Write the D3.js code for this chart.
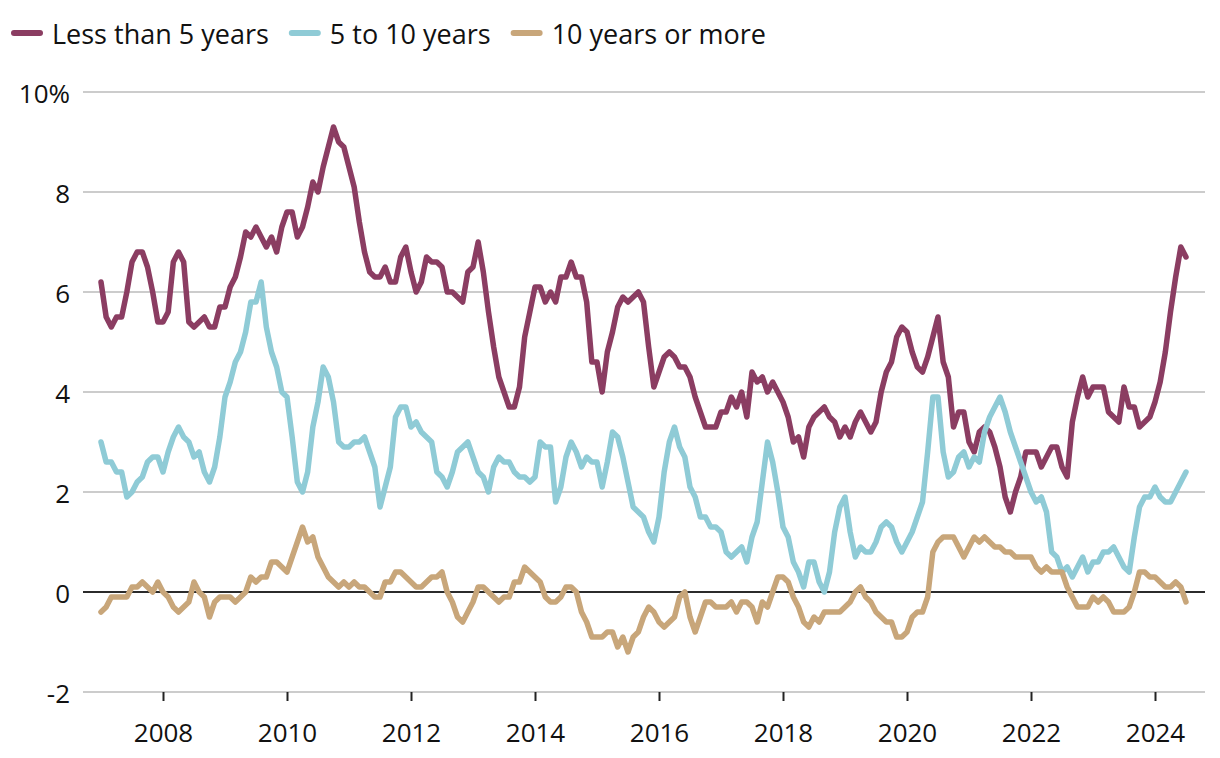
<!DOCTYPE html>
<html>
<head>
<meta charset="utf-8">
<script src="https://cdn.jsdelivr.net/npm/d3@7"></script>
<style>
  body { margin: 0; background: #fff; }
  text { font-family: "Open Sans", Lato, sans-serif; fill: #111; }
</style>
</head>
<body>
<div id="chartArea"></div>
<script>
// monthly values, Jan 2007 .. Jul 2024
var lessThan5 = [
  6.2, 5.5, 5.3, 5.5, 5.5, 6.0, 6.6, 6.8, 6.8, 6.5, 6.0, 5.4,
  5.4, 5.6, 6.6, 6.8, 6.6, 5.4, 5.3, 5.4, 5.5, 5.3, 5.3, 5.7,
  5.7, 6.1, 6.3, 6.7, 7.2, 7.1, 7.3, 7.1, 6.9, 7.1, 6.8, 7.3,
  7.6, 7.6, 7.1, 7.3, 7.7, 8.2, 8.0, 8.5, 8.9, 9.3, 9.0, 8.9,
  8.5, 8.1, 7.4, 6.8, 6.4, 6.3, 6.3, 6.5, 6.2, 6.2, 6.7, 6.9,
  6.4, 6.0, 6.2, 6.7, 6.6, 6.6, 6.5, 6.0, 6.0, 5.9, 5.8, 6.4,
  6.5, 7.0, 6.4, 5.6, 4.9, 4.3, 4.0, 3.7, 3.7, 4.1, 5.1, 5.6,
  6.1, 6.1, 5.8, 6.0, 5.8, 6.3, 6.3, 6.6, 6.3, 6.3, 5.8, 4.6,
  4.6, 4.0, 4.8, 5.2, 5.7, 5.9, 5.8, 5.9, 6.0, 5.8, 4.9, 4.1,
  4.4, 4.7, 4.8, 4.7, 4.5, 4.5, 4.3, 3.9, 3.6, 3.3, 3.3, 3.3,
  3.6, 3.6, 3.9, 3.7, 4.0, 3.5, 4.4, 4.2, 4.3, 4.0, 4.2, 4.0,
  3.8, 3.5, 3.0, 3.1, 2.7, 3.3, 3.5, 3.6, 3.7, 3.5, 3.4, 3.1,
  3.3, 3.1, 3.4, 3.6, 3.4, 3.2, 3.4, 4.0, 4.4, 4.6, 5.1, 5.3,
  5.2, 4.8, 4.5, 4.4, 4.7, 5.1, 5.5, 4.6, 4.3, 3.3, 3.6, 3.6,
  3.0, 2.8, 3.2, 3.3, 3.2, 2.9, 2.5, 1.9, 1.6, 2.0, 2.3, 2.8,
  2.8, 2.8, 2.5, 2.7, 2.9, 2.9, 2.5, 2.3, 3.4, 3.9, 4.3, 3.9,
  4.1, 4.1, 4.1, 3.6, 3.5, 3.4, 4.1, 3.7, 3.7, 3.3, 3.4, 3.5,
  3.8, 4.2, 4.8, 5.6, 6.3, 6.9, 6.7
];
var fiveToTen = [
  3.0, 2.6, 2.6, 2.4, 2.4, 1.9, 2.0, 2.2, 2.3, 2.6, 2.7, 2.7,
  2.4, 2.8, 3.1, 3.3, 3.1, 3.0, 2.7, 2.8, 2.4, 2.2, 2.5, 3.1,
  3.9, 4.2, 4.6, 4.8, 5.2, 5.8, 5.8, 6.2, 5.3, 4.8, 4.5, 4.0,
  3.9, 3.1, 2.2, 2.0, 2.4, 3.3, 3.8, 4.5, 4.3, 3.8, 3.0, 2.9,
  2.9, 3.0, 3.0, 3.1, 2.8, 2.5, 1.7, 2.1, 2.5, 3.5, 3.7, 3.7,
  3.3, 3.4, 3.2, 3.1, 3.0, 2.4, 2.3, 2.1, 2.4, 2.8, 2.9, 3.0,
  2.7, 2.4, 2.3, 2.0, 2.5, 2.7, 2.6, 2.6, 2.4, 2.3, 2.3, 2.2,
  2.3, 3.0, 2.9, 2.9, 1.8, 2.1, 2.7, 3.0, 2.8, 2.5, 2.7, 2.6,
  2.6, 2.1, 2.6, 3.2, 3.1, 2.7, 2.2, 1.7, 1.6, 1.5, 1.2, 1.0,
  1.5, 2.4, 3.0, 3.3, 2.9, 2.7, 2.1, 1.9, 1.5, 1.5, 1.3, 1.3,
  1.2, 0.8, 0.7, 0.8, 0.9, 0.6, 1.1, 1.4, 2.2, 3.0, 2.6, 2.0,
  1.3, 1.1, 0.6, 0.4, 0.1, 0.6, 0.6, 0.2, 0.0, 0.4, 1.2, 1.7,
  1.9, 1.2, 0.7, 0.9, 0.8, 0.8, 1.0, 1.3, 1.4, 1.3, 1.0, 0.8,
  1.0, 1.2, 1.5, 1.8, 2.8, 3.9, 3.9, 2.8, 2.3, 2.4, 2.7, 2.8,
  2.5, 2.7, 2.6, 3.2, 3.5, 3.7, 3.9, 3.6, 3.2, 2.9, 2.6, 2.3,
  2.0, 1.8, 1.9, 1.6, 0.8, 0.7, 0.4, 0.5, 0.3, 0.5, 0.7, 0.4,
  0.6, 0.6, 0.8, 0.8, 0.9, 0.7, 0.5, 0.4, 1.1, 1.7, 1.9, 1.9,
  2.1, 1.9, 1.8, 1.8, 2.0, 2.2, 2.4
];
var tenPlus = [
  -0.4, -0.3, -0.1, -0.1, -0.1, -0.1, 0.1, 0.1, 0.2, 0.1, 0.0, 0.2,
  0.0, -0.1, -0.3, -0.4, -0.3, -0.2, 0.2, 0.0, -0.1, -0.5, -0.2, -0.1,
  -0.1, -0.1, -0.2, -0.1, 0.0, 0.3, 0.2, 0.3, 0.3, 0.6, 0.6, 0.5,
  0.4, 0.7, 1.0, 1.3, 1.0, 1.1, 0.7, 0.5, 0.3, 0.2, 0.1, 0.2,
  0.1, 0.2, 0.1, 0.1, 0.0, -0.1, -0.1, 0.2, 0.2, 0.4, 0.4, 0.3,
  0.2, 0.1, 0.1, 0.2, 0.3, 0.3, 0.4, 0.0, -0.2, -0.5, -0.6, -0.4,
  -0.2, 0.1, 0.1, 0.0, -0.1, -0.2, -0.1, -0.1, 0.2, 0.2, 0.5, 0.4,
  0.3, 0.2, -0.1, -0.2, -0.2, -0.1, 0.1, 0.1, 0.0, -0.4, -0.6, -0.9,
  -0.9, -0.9, -0.8, -0.8, -1.1, -0.9, -1.2, -0.9, -0.8, -0.5, -0.3, -0.4,
  -0.6, -0.7, -0.6, -0.5, -0.1, 0.0, -0.5, -0.8, -0.5, -0.2, -0.2, -0.3,
  -0.3, -0.3, -0.2, -0.4, -0.2, -0.2, -0.3, -0.6, -0.2, -0.3, 0.0, 0.3,
  0.3, 0.2, -0.1, -0.3, -0.6, -0.7, -0.5, -0.6, -0.4, -0.4, -0.4, -0.4,
  -0.3, -0.2, 0.0, 0.1, -0.1, -0.2, -0.4, -0.5, -0.6, -0.6, -0.9, -0.9,
  -0.8, -0.5, -0.4, -0.4, -0.1, 0.8, 1.0, 1.1, 1.1, 1.1, 0.9, 0.7,
  0.9, 1.1, 1.0, 1.1, 1.0, 0.9, 0.9, 0.8, 0.8, 0.7, 0.7, 0.7,
  0.7, 0.5, 0.4, 0.5, 0.4, 0.4, 0.4, 0.1, -0.1, -0.3, -0.3, -0.3,
  -0.1, -0.2, -0.1, -0.2, -0.4, -0.4, -0.4, -0.3, 0.0, 0.4, 0.4, 0.3,
  0.3, 0.2, 0.1, 0.1, 0.2, 0.1, -0.2
];
var seriesNames = ['Less than 5 years', '5 to 10 years', '10 years or more'];
var seriesColors = ['#8b3d62', '#8fcbd6', '#c8a67a'];
var yTicks = [-2, 0, 2, 4, 6, 8, 10];
var xTicks = [2008, 2010, 2012, 2014, 2016, 2018, 2020, 2022, 2024];

var W = 1220, H = 758;
var plotLeft = 83, plotRight = 1205;

var svg = d3.select('#chartArea').append('svg')
    .attr('width', W)
    .attr('height', H);

// decimal year scale
var xScale = d3.scaleLinear()
    .domain([2007, 2024])
    .range([101, 1155]);

var yScale = d3.scaleLinear()
    .domain([-2, 10])
    .range([692, 92]);

// gridlines
svg.append('g')
    .selectAll('line')
    .data(yTicks)
    .enter()
    .append('line')
    .attr('x1', plotLeft)
    .attr('x2', plotRight)
    .attr('y1', function (d) { return yScale(d); })
    .attr('y2', function (d) { return yScale(d); })
    .attr('stroke', function (d) { return d === 0 ? '#2b2b2b' : '#cccccc'; })
    .attr('stroke-width', 2);

// y labels
svg.append('g')
    .selectAll('text')
    .data(yTicks)
    .enter()
    .append('text')
    .attr('x', 70)
    .attr('y', function (d) { return yScale(d) + 11; })
    .attr('text-anchor', 'end')
    .style('font-size', '26px')
    .text(function (d) { return d === 10 ? '10%' : d; });

// x axis
var xAxis = d3.axisBottom(xScale)
    .tickValues(xTicks)
    .tickFormat(d3.format('d'))
    .tickSize(9)
    .tickPadding(23);

var gx = svg.append('g')
    .attr('class', 'x-axis')
    .attr('transform', 'translate(0, ' + yScale(-2) + ')')
    .call(xAxis);

gx.select('.domain').remove();
gx.selectAll('.tick line').attr('stroke', '#222').attr('stroke-width', 2);
gx.selectAll('.tick text')
    .style('font-size', '26px')
    .style('font-family', '"Open Sans", Lato, sans-serif')
    .attr('fill', '#111');

// lines
var line = d3.line()
    .x(function (d, i) { return xScale(2007 + i / 12); })
    .y(function (d) { return yScale(d); });

[lessThan5, fiveToTen, tenPlus].forEach(function (values, k) {
    svg.append('path')
        .datum(values)
        .attr('fill', 'none')
        .attr('stroke', seriesColors[k])
        .attr('stroke-width', 5.5)
        .attr('stroke-linejoin', 'round')
        .attr('stroke-linecap', 'round')
        .attr('d', line);
});

// legend
var legend = svg.append('g').attr('class', 'legend');
var lx = 12;
seriesNames.forEach(function (name, k) {
    legend.append('line')
        .attr('x1', lx + 2)
        .attr('x2', lx + 28)
        .attr('y1', 33)
        .attr('y2', 33)
        .attr('stroke', seriesColors[k])
        .attr('stroke-width', 6)
        .attr('stroke-linecap', 'round');
    var t = legend.append('text')
        .attr('x', lx + 40)
        .attr('y', 44)
        .style('font-size', '27px')
        .text(name);
    lx = lx + 40 + t.node().getComputedTextLength() + 21;
});
</script>
</body>
</html>
